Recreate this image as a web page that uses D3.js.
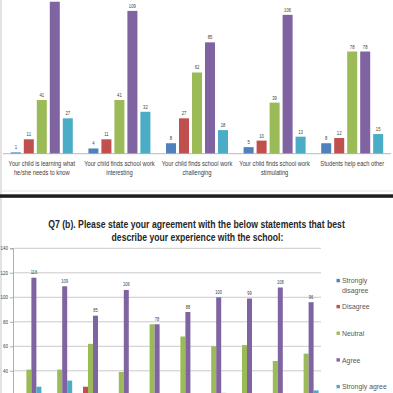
<!DOCTYPE html>
<html><head><meta charset="utf-8">
<script src="https://cdn.jsdelivr.net/npm/d3@7"></script>
<style>html,body{margin:0;padding:0;background:#fff;overflow:hidden}</style>
</head><body><svg id="c" width="393" height="393"></svg>
<script>
// ---------- data ----------
const seriesNames = ["Strongly disagree","Disagree","Neutral","Agree","Strongly agree"];
const seriesColors = ["#4F81BD","#C0504D","#9BBB59","#8064A2","#4BACC6"];

const topCategories = [
  ["Your child is learning what","he/she needs to know"],
  ["Your child finds school work","interesting"],
  ["Your child finds school work","challenging"],
  ["Your child finds school work","stimulating"],
  ["Students help each other"]
];
const topStronglyDisagree = [1,4,8,5,8];
const topDisagree = [11,11,27,10,12];
const topNeutral = [41,41,62,39,78];
const topAgree = [116,109,85,106,78];
const topStronglyAgree = [27,32,18,13,15];

const bottomCategories = ["Statement 1","Statement 2","Statement 3","Statement 4","Statement 5",
  "Statement 6","Statement 7","Statement 8","Statement 9","Statement 10"];
const botStronglyDisagree = [1,4,8,5,8,6,5,6,5,6];
const botDisagree = [11,11,27,10,12,14,12,14,13,15];
const botNeutral = [41,41,62,39,78,68,60,61,48,54];
const botAgree = [116,109,85,106,78,88,100,99,108,96];
const botStronglyAgree = [27,32,18,13,15,20,22,20,21,24];
const yTicks = [0,20,40,60,80,100,120,140];
const titleLines = ["Q7 (b). Please state your agreement with the below statements that best",
                    "describe your experience with the school:"];

// ---------- helpers ----------
const svg = d3.select("#c");
svg.append("rect").attr("width",393).attr("height",393).attr("fill","#fff");
const FONT = "'Liberation Sans', Arial, sans-serif";
// horizontally squeeze a text around its anchor (Calibri-like narrow look)
function squeeze(sel, f, target){
  sel.each(function(){
    const x = +this.getAttribute("x") || 0, y = +this.getAttribute("y") || 0;
    const w = this.getComputedTextLength();
    const k = target ? target / w : f;
    this.setAttribute("x", 0); this.setAttribute("y", 0);
    this.setAttribute("transform", `translate(${x},${y}) scale(${k},1)`);
  });
}

// ---------- top chart ----------
const topSeries = [topStronglyDisagree, topDisagree, topNeutral, topAgree, topStronglyAgree];
const yTop = d3.scaleLinear().domain([0,100]).range([153.7, 153.7-131]);
const xTop = d3.scaleBand().domain(d3.range(topCategories.length)).range([3,391]);
const xSubTop = d3.scaleBand().domain(seriesNames).range([0,62]).paddingInner(0.23);
const offTop = (xTop.bandwidth()-62)/2;

const gTop = svg.append("g");
// frame lines
svg.append("line").attr("x1",1).attr("x2",1).attr("y1",0).attr("y2",393)
  .attr("stroke","#cfcfcf").attr("stroke-width",1.2);
svg.append("line").attr("x1",1).attr("x2",393).attr("y1",191).attr("y2",191)
  .attr("stroke","#e2e2e2").attr("stroke-width",1);

topSeries.forEach((vals, si) => {
  const g = gTop.append("g");
  g.selectAll("rect").data(vals).join("rect")
    .attr("x",(d,i)=>xTop(i)+offTop+xSubTop(seriesNames[si]))
    .attr("y",d=>yTop(d))
    .attr("width",xSubTop.bandwidth())
    .attr("height",d=>yTop(0)-yTop(d))
    .attr("fill",seriesColors[si]);
  // labels that fall above the visible frame are not shown (cropped in the reference)
  const t = g.selectAll("text").data(vals.map((v,i)=>({v,i})).filter(d=>yTop(d.v)-3>6)).join("text")
    .attr("x",d=>xTop(d.i)+offTop+xSubTop(seriesNames[si])+xSubTop.bandwidth()/2)
    .attr("y",d=>yTop(d.v)-3)
    .attr("text-anchor","middle")
    .attr("font-family",FONT).attr("font-size",5).attr("fill","#404040")
    .text(d=>d.v);
  squeeze(t,0.85);
});
gTop.append("line").attr("x1",3).attr("x2",391).attr("y1",yTop(0)).attr("y2",yTop(0))
  .attr("stroke","#a6a6a6").attr("stroke-width",0.8);
topCategories.forEach((lines,i)=>{
  lines.forEach((ln,j)=>{
    const t = gTop.append("text")
      .attr("x",xTop(i)+xTop.bandwidth()/2)
      .attr("y",165.5+j*9)
      .attr("text-anchor","middle")
      .attr("font-family",FONT).attr("font-size",7).attr("fill","#404040")
      .text(ln);
    squeeze(t,0.82);
  });
});

// separator
svg.append("rect").attr("x",0).attr("y",194.3).attr("width",393).attr("height",3.5).attr("fill","#1c1c1c");

// ---------- bottom chart ----------
const botSeries = [botStronglyDisagree, botDisagree, botNeutral, botAgree, botStronglyAgree];
const yBot = d3.scaleLinear().domain([0,140]).range([419.8,248.3]);
const xBot = d3.scaleBand().domain(bottomCategories).range([13.5,321.5]);
const xSubBot = d3.scaleBand().domain(seriesNames).range([0,25]);
const offBot = (xBot.bandwidth()-25)/2;
const gBot = svg.append("g");

// title
titleLines.forEach((ln,j)=>{
  const t = gBot.append("text").attr("x",j===0?196.5:197.5).attr("y",228+j*13.4)
    .attr("text-anchor","middle").attr("font-family",FONT).attr("font-weight","bold")
    .attr("font-size",10.5).attr("fill","#262626")
    .text(ln);
  squeeze(t, 1, j===0?297:172);
});

// gridlines
gBot.selectAll("line.grid").data(yTicks.filter(v=>v>0)).join("line")
  .attr("class","grid").attr("x1",13).attr("x2",321)
  .attr("y1",d=>yBot(d)).attr("y2",d=>yBot(d))
  .attr("stroke","#bdbdbd").attr("stroke-width",0.8);

// axis (only ticks inside the visible frame get labels)
const ax = gBot.append("g").attr("transform","translate(13,0)")
  .call(d3.axisLeft(yBot).tickValues(yTicks.filter(v=>yBot(v)<388)).tickSize(3).tickPadding(2));
ax.select(".domain").attr("stroke","#9a9a9a").attr("stroke-width",0.8);
ax.selectAll(".tick line").attr("stroke","#9a9a9a").attr("stroke-width",0.8);
ax.selectAll(".tick text").attr("font-family",FONT).attr("font-size",4.5).attr("fill","#404040");

botSeries.forEach((vals, si)=>{
  gBot.append("g").selectAll("rect").data(vals).join("rect")
    .attr("x",(d,i)=>xBot(bottomCategories[i])+offBot+xSubBot(seriesNames[si]))
    .attr("y",d=>yBot(d))
    .attr("width",xSubBot.bandwidth())
    .attr("height",d=>yBot(0)-yBot(d))
    .attr("fill",seriesColors[si]);
});
const al = gBot.append("g").selectAll("text").data(botAgree).join("text")
  .attr("x",(d,i)=>xBot(bottomCategories[i])+offBot+xSubBot("Agree")+xSubBot.bandwidth()/2)
  .attr("y",d=>yBot(d)-3.5)
  .attr("text-anchor","middle").attr("font-family",FONT).attr("font-size",4.8).attr("fill","#404040")
  .text(d=>d);
squeeze(al,0.85);

// legend
const legY = [280.7,306.7,333.3,360,386.7];
const legLines = [["Strongly","disagree"],["Disagree"],["Neutral"],["Agree"],["Strongly agree"]];
seriesNames.forEach((s,i)=>{
  gBot.append("rect").attr("x",336.5).attr("y",legY[i]-1.8).attr("width",3.4).attr("height",3.4)
    .attr("fill",seriesColors[i]);
  legLines[i].forEach((ln,j)=>{
    const t = gBot.append("text").attr("x",342).attr("y",legY[i]+2.6+j*9.3)
      .attr("font-family",FONT).attr("font-size",7.5).attr("fill","#595959").text(ln);
    squeeze(t,0.92);
  });
});
</script></body></html>
